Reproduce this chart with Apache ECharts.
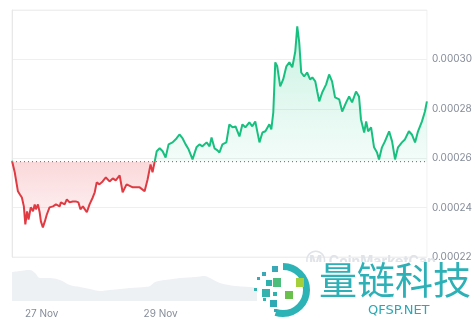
<!DOCTYPE html>
<html>
<head>
<meta charset="utf-8">
<script src="https://cdn.jsdelivr.net/npm/echarts@6/dist/echarts.min.js"></script>
<style>
html,body{margin:0;padding:0;background:#fff;}
#c{width:475px;height:322px;}
</style>
</head>
<body>
<div id="c"></div>
<script>
// Hours since 26 Nov 12:00
const priceHours = [0,1.1,2.4,3.2,4.0,4.8,5.4,6.1,6.7,7.6,8.5,9.2,9.7,10.5,11.2,11.7,12.5,13.3,14.1,15.2,16.6,17.8,19.3,19.8,21.3,22.2,23.3,24.6,25.8,26.9,27.7,28.7,29.5,30.3,31.4,32.7,33.5,34.3,35.4,36.7,38.0,39.5,40.8,42.0,43.6,44.8,46.4,48.9,51.7,53.7,54.9,56.1,56.9,57.8,
58.6,59.8,61.0,62.2,63.4,65.0,66.6,67.8,69.1,70.3,71.5,73.1,74.7,75.9,77.1,78.8,80.0,80.8,82.0,83.2,84.0,85.2,86.8,88.0,89.3,90.5,92.1,93.3,94.5,96.1,97.3,98.5,100.2,101.4,102.6,104.2,105.0,105.8,106.6,107.4,108.6,109.8,111.1,112.3,113.5,114.7,115.5,116.3,117.1,118.3,119.5,120.7,121.6,122.8,123.6,124.4,125.6,127.2,128.4,129.6,130.8,132.5,133.7,135.3,136.5,137.7,139.3,140.5,141.3,142.6,143.4,144.2,145.4,146.6,147.8,148.6,149.8,151.0,152.7,153.9,155.1,156.3,157.9,159.1,160.7,161.9,163.2,164.4,166.0,167.2,168.0];
const priceValues = [0.0002590,0.0002543,0.0002466,0.0002453,0.0002441,0.0002405,0.0002332,0.0002385,0.0002352,0.0002401,0.0002385,0.0002413,0.0002393,0.0002413,0.0002381,0.0002344,0.0002320,0.0002344,0.0002372,0.0002401,0.0002405,0.0002413,0.0002405,0.0002421,0.0002413,0.0002433,0.0002421,0.0002425,0.0002425,0.0002421,0.0002393,0.0002405,0.0002401,0.0002381,0.0002413,0.0002441,0.0002462,0.0002502,0.0002494,0.0002506,0.0002522,0.0002506,0.0002518,0.0002510,0.0002530,0.0002462,0.0002494,0.0002482,0.0002482,0.0002466,0.0002514,0.0002575,0.0002543,0.0002587,
0.0002628,0.0002640,0.0002628,0.0002603,0.0002656,0.0002664,0.0002680,0.0002696,0.0002680,0.0002656,0.0002636,0.0002595,0.0002644,0.0002656,0.0002648,0.0002664,0.0002648,0.0002684,0.0002640,0.0002632,0.0002623,0.0002656,0.0002664,0.0002737,0.0002725,0.0002729,0.0002688,0.0002737,0.0002725,0.0002745,0.0002729,0.0002749,0.0002664,0.0002704,0.0002709,0.0002737,0.0002717,0.0002785,0.0002988,0.0002972,0.0002891,0.0002919,0.0002972,0.0002988,0.0002968,0.0003032,0.0003134,0.0003069,0.0002947,0.0002931,0.0002947,0.0002919,0.0002927,0.0002911,0.0002870,0.0002830,0.0002866,0.0002899,0.0002939,0.0002911,0.0002846,0.0002838,0.0002789,0.0002826,0.0002850,0.0002826,0.0002870,0.0002850,0.0002757,0.0002704,0.0002749,0.0002709,0.0002725,0.0002644,0.0002623,0.0002595,0.0002644,0.0002668,0.0002709,0.0002668,0.0002595,0.0002644,0.0002664,0.0002676,0.0002709,0.0002696,0.0002664,0.0002709,0.0002749,0.0002789,0.0002830];
const baselinePrice = 0.0002586;
const volumeHours = [0,3.2,7.3,9.3,11.3,15.3,19.4,23.4,27.5,31.5,35.5,39.6,43.6,47.7,53.7,55.7,57.8,61.8,67.8,73.9,77.9,80.0,84.0,90.1,96.1,100,106,112,120,130,140,150,160,168];
const volumeValues = [29,30,31,28,23,23,21,16,14,12,10,11,12,13,14,15,19,21,23,24,25,23,18,15,14,13,20,26,22,18,17,16,15,15];
const yTicks = [0.00022,0.00024,0.00026,0.00028,0.00030];
const xTickHours = [12,60,108,156];
const xTickLabels = ['27 Nov','29 Nov','1 Dec','3 Dec'];

const price = priceHours.map((h,i)=>[h,priceValues[i]]);
const upper = price.map(p=>[p[0],Math.max(p[1],baselinePrice)]);
const lower = price.map(p=>[p[0],Math.min(p[1],baselinePrice)]);
const volume = volumeHours.map((h,i)=>[h,volumeValues[i]]);
const baseLineData = [[priceHours[0],baselinePrice],[priceHours[priceHours.length-1],baselinePrice]];

const GREEN='#17c07f', RED='#e03a42';
const W=475,H=322;
const chart = echarts.init(document.getElementById('c'), null, {renderer:'canvas'});
const option = {
  animation:false,
  backgroundColor:'#fff',
  grid:[
    {left:12,right:47,top:10,bottom:65,show:true,borderColor:'#f1f1f1',borderWidth:1},
    {left:12,right:47,top:262,bottom:21}
  ],
  xAxis:[
    {type:'value',gridIndex:0,min:0,max:168,axisLine:{show:false},axisTick:{show:false},axisLabel:{show:false},splitLine:{show:false}},
    {type:'value',gridIndex:1,min:0,max:168,axisLine:{show:false},axisTick:{show:false},splitLine:{show:false},
     axisLabel:{customValues:xTickHours,margin:8,color:'#858c99',fontSize:10,fontFamily:'Inter',
       formatter:v=>{const i=xTickHours.indexOf(v);return i>=0?xTickLabels[i]:'';}}}
  ],
  yAxis:[
    {type:'value',gridIndex:0,position:'right',min:0.00022,max:0.00032,interval:0.00002,
     axisLine:{show:true,lineStyle:{color:'#e8e8e8'}},axisTick:{show:false},
     splitLine:{show:true,lineStyle:{color:'#efefef'}},
     axisLabel:{showMaxLabel:false,margin:5,color:'#858c99',fontSize:10,fontFamily:'Inter',
       formatter:v=>{for(const t of yTicks){if(Math.abs(v-t)<1e-9)return t.toFixed(5);}return '';}}},
    {type:'value',gridIndex:1,min:0,max:39,show:false}
  ],
  series:[
    {type:'line',xAxisIndex:0,yAxisIndex:0,data:upper,symbol:'none',silent:true,
     lineStyle:{width:0,opacity:0},
     areaStyle:{origin:baselinePrice,color:new echarts.graphic.LinearGradient(0,0,0,1,[{offset:0,color:'rgba(22,199,132,0.32)'},{offset:1,color:'rgba(22,199,132,0.07)'}])}},
    {type:'line',xAxisIndex:0,yAxisIndex:0,data:lower,symbol:'none',silent:true,
     lineStyle:{width:0,opacity:0},
     areaStyle:{origin:baselinePrice,color:new echarts.graphic.LinearGradient(0,0,0,1,[{offset:0,color:'rgba(234,57,67,0.28)'},{offset:1,color:'rgba(234,57,67,0.08)'}])}},
    {id:'price',type:'line',xAxisIndex:0,yAxisIndex:0,data:price,symbol:'none',lineStyle:{width:2,color:GREEN},z:5},
    {type:'line',xAxisIndex:0,yAxisIndex:0,data:baseLineData,symbol:'none',silent:true,z:4,
     lineStyle:{type:[1,3],color:'#666',width:1}},
    {type:'line',xAxisIndex:1,yAxisIndex:1,data:volume,symbol:'none',smooth:0.3,
     lineStyle:{width:0,opacity:0},areaStyle:{color:'#eef1f4',opacity:1}}
  ],
  graphic:[
    {type:'text',left:306,top:255,z:10,style:{text:'Ⓜ CoinMarketCap',fill:'#e0e3e7',fontSize:14,fontFamily:'Inter',fontWeight:'bold'}},
    {type:'rect',z:20,shape:{x:257,y:262,width:218,height:60},style:{fill:'#fff'}},
    {type:'arc',z:21,shape:{cx:283,cy:290,r:23.5,startAngle:-Math.PI/2,endAngle:Math.PI*0.6,clockwise:true},style:{stroke:'#2db3b6',lineWidth:7,fill:'none'}},
    {type:'rect',z:21,shape:{x:272,y:266,width:6,height:6},style:{fill:'#3aa8b6'}},
    {type:'rect',z:21,shape:{x:262,y:272,width:4,height:4},style:{fill:'#3aa8b6'}},
    {type:'rect',z:21,shape:{x:257,y:277,width:3,height:3},style:{fill:'#3aa8b6'}},
    {type:'rect',z:21,shape:{x:266,y:280,width:6,height:6},style:{fill:'#2fb1ad'}},
    {type:'rect',z:21,shape:{x:273,y:278,width:8,height:9},style:{fill:'#4dbd7c'}},
    {type:'rect',z:21,shape:{x:296,y:278,width:8,height:9},style:{fill:'#a6cf3c'}},
    {type:'rect',z:21,shape:{x:285,y:291,width:8,height:8},style:{fill:'#69c04c'}},
    {type:'rect',z:21,shape:{x:273,y:292,width:4,height:4},style:{fill:'#2fb1ad'}},
    {type:'rect',z:21,shape:{x:262,y:289,width:8,height:8},style:{fill:'#34b3ae'}},
    {type:'rect',z:21,shape:{x:254,y:288,width:3,height:3},style:{fill:'#34b3ae'}},
    {type:'rect',z:21,shape:{x:263,y:298,width:3,height:3},style:{fill:'#34b3ae'}},
    {type:'rect',z:21,shape:{x:270,y:300,width:7,height:7},style:{fill:'#2fa9b3'}},
    {type:'rect',z:21,shape:{x:274,y:309,width:3,height:3},style:{fill:'#2fa9b3'}},
    {type:'text',z:21,left:319,top:261,style:{text:'量链科技',fill:'#2db0b6',fontSize:38,fontFamily:'Noto Sans CJK SC'}},
    {type:'text',z:21,left:368,top:304,style:{text:'QFSP.NET',fill:'#2aa9b5',fontSize:13,fontFamily:'DejaVu Sans',letterSpacing:3}}
  ]
};
chart.setOption(option);
// Split the price line colour at the baseline, located through the y axis scale
const by = chart.convertToPixel({yAxisIndex:0}, baselinePrice);
const off = by / H;
chart.setOption({series:[{id:'price',lineStyle:{color:new echarts.graphic.LinearGradient(0,0,0,H,[
  {offset:0,color:GREEN},{offset:off,color:GREEN},{offset:off,color:RED},{offset:1,color:RED}],true)}}]});
</script>
</body>
</html>
